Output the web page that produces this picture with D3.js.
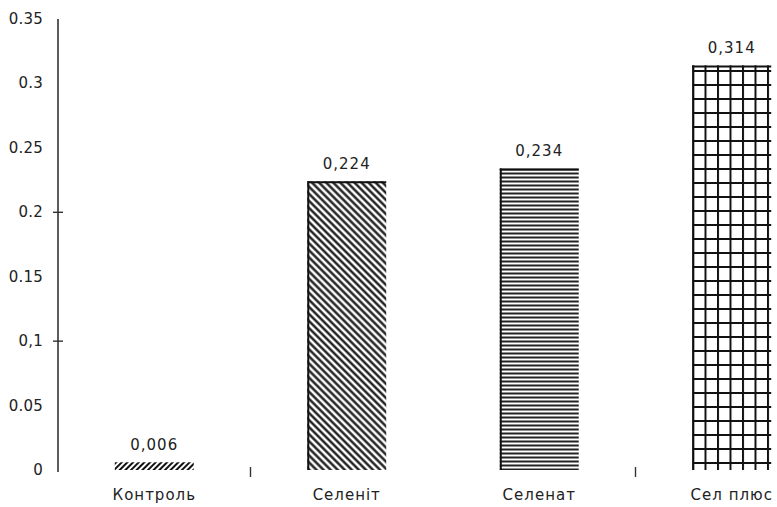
<!DOCTYPE html>
<html>
<head>
<meta charset="utf-8">
<script src="https://cdn.jsdelivr.net/npm/d3@7"></script>
<style>
  html, body { margin: 0; padding: 0; background: #fff; }
  svg { display: block; }
  text { font-family: "DejaVu Sans", sans-serif; fill: #222; }
</style>
</head>
<body>
<svg id="chart" width="777" height="507"></svg>
<script>
const categories = ["Контроль", "Селеніт", "Селенат", "Сел плюс"];
const values = [0.006, 0.224, 0.234, 0.314];
const valueLabels = ["0,006", "0,224", "0,234", "0,314"];
const yTicks = [0, 0.05, 0.1, 0.15, 0.2, 0.25, 0.3, 0.35];
const yTickLabels = ["0", "0.05", "0,1", "0.15", "0.2", "0.25", "0.3", "0.35"];
const yMarkedTicks = [0.1, 0.2];
const patternIds = ["pCtrl", "pSelenit", "pSelenat", "pPlus"];

const svg = d3.select("#chart");
const x = d3.scaleBand().domain(categories).range([58, 828]).paddingInner(0.59).paddingOuter(0.295);
const y = d3.scaleLinear().domain([0, 0.35]).range([470, 19]);

const defs = svg.append("defs");
// Контроль: "/" hatch
const p1 = defs.append("pattern").attr("id", "pCtrl").attr("patternUnits", "userSpaceOnUse")
  .attr("width", 4).attr("height", 4).attr("patternTransform", "rotate(45)");
p1.append("line").attr("x1", 1).attr("x2", 1).attr("y1", 0).attr("y2", 4).attr("stroke", "#111").attr("stroke-width", 2);
// Селеніт: "\" hatch
const p2 = defs.append("pattern").attr("id", "pSelenit").attr("patternUnits", "userSpaceOnUse")
  .attr("width", 5).attr("height", 5).attr("patternTransform", "rotate(-45)");
p2.append("line").attr("x1", 1.5).attr("x2", 1.5).attr("y1", 0).attr("y2", 5).attr("stroke", "#111").attr("stroke-width", 2.3);
// Селенат: horizontal lines
const p3 = defs.append("pattern").attr("id", "pSelenat").attr("patternUnits", "userSpaceOnUse")
  .attr("width", 8).attr("height", 4);
p3.append("line").attr("x1", 0).attr("x2", 8).attr("y1", 1.5).attr("y2", 1.5).attr("stroke", "#222").attr("stroke-width", 2);
// Сел плюс: grid
const p4 = defs.append("pattern").attr("id", "pPlus").attr("patternUnits", "userSpaceOnUse")
  .attr("width", 12.5).attr("height", 14).attr("x", 692).attr("y", 14);
p4.append("line").attr("x1", 1).attr("x2", 1).attr("y1", 0).attr("y2", 14).attr("stroke", "#111").attr("stroke-width", 2);
p4.append("line").attr("x1", 0).attr("x2", 12.5).attr("y1", 1).attr("y2", 1).attr("stroke", "#111").attr("stroke-width", 2);

// bars
svg.append("g").selectAll("rect").data(categories).join("rect")
  .attr("x", d => x(d))
  .attr("y", (d, i) => y(values[i]))
  .attr("width", x.bandwidth())
  .attr("height", (d, i) => y(0) - y(values[i]))
  .attr("fill", (d, i) => `url(#${patternIds[i]})`);

// left edges for Селеніт / Селенат, top edges
svg.append("g").selectAll("line").data(categories.slice(1)).join("line")
  .attr("x1", d => x(d) + 1).attr("x2", d => x(d) + 1)
  .attr("y1", d => y(values[categories.indexOf(d)])).attr("y2", y(0))
  .attr("stroke", "#111").attr("stroke-width", 2);
svg.append("g").selectAll("line").data(categories.slice(1)).join("line")
  .attr("x1", d => x(d)).attr("x2", d => x(d) + x.bandwidth())
  .attr("y1", d => y(values[categories.indexOf(d)]) + 1).attr("y2", d => y(values[categories.indexOf(d)]) + 1)
  .attr("stroke", "#111").attr("stroke-width", 2);

// value labels
svg.append("g").selectAll("text").data(categories).join("text")
  .attr("x", d => x(d) + x.bandwidth() / 2)
  .attr("y", (d, i) => y(values[i]) - 12)
  .attr("text-anchor", "middle")
  .attr("font-size", 15)
  .attr("letter-spacing", 1)
  .text((d, i) => valueLabels[i]);

// y axis
svg.append("line").attr("x1", 58).attr("x2", 58).attr("y1", y(0.35)).attr("y2", y(0) + 2)
  .attr("stroke", "#333").attr("stroke-width", 1.6);
svg.append("g").selectAll("line").data(yMarkedTicks).join("line")
  .attr("x1", 53).attr("x2", 63).attr("y1", d => y(d)).attr("y2", d => y(d))
  .attr("stroke", "#333").attr("stroke-width", 1.4);
svg.append("g").selectAll("text").data(yTicks).join("text")
  .attr("x", 43).attr("y", d => y(d) + 5)
  .attr("text-anchor", "end")
  .attr("font-size", 15)
  .attr("letter-spacing", 0.2)
  .text((d, i) => yTickLabels[i]);

// x axis ticks (between categories, every other)
const boundaries = [1, 3].map(i => x(categories[i]) - x.step() * x.paddingInner() / 2);
svg.append("g").selectAll("line").data(boundaries).join("line")
  .attr("x1", d => d).attr("x2", d => d).attr("y1", y(0) - 3).attr("y2", y(0) + 7)
  .attr("stroke", "#333").attr("stroke-width", 1.4);

// category labels
svg.append("g").selectAll("text").data(categories).join("text")
  .attr("x", d => x(d) + x.bandwidth() / 2)
  .attr("y", 500)
  .attr("text-anchor", "middle")
  .attr("font-size", 15)
  .attr("letter-spacing", 1)
  .text(d => d);
</script>
</body>
</html>
